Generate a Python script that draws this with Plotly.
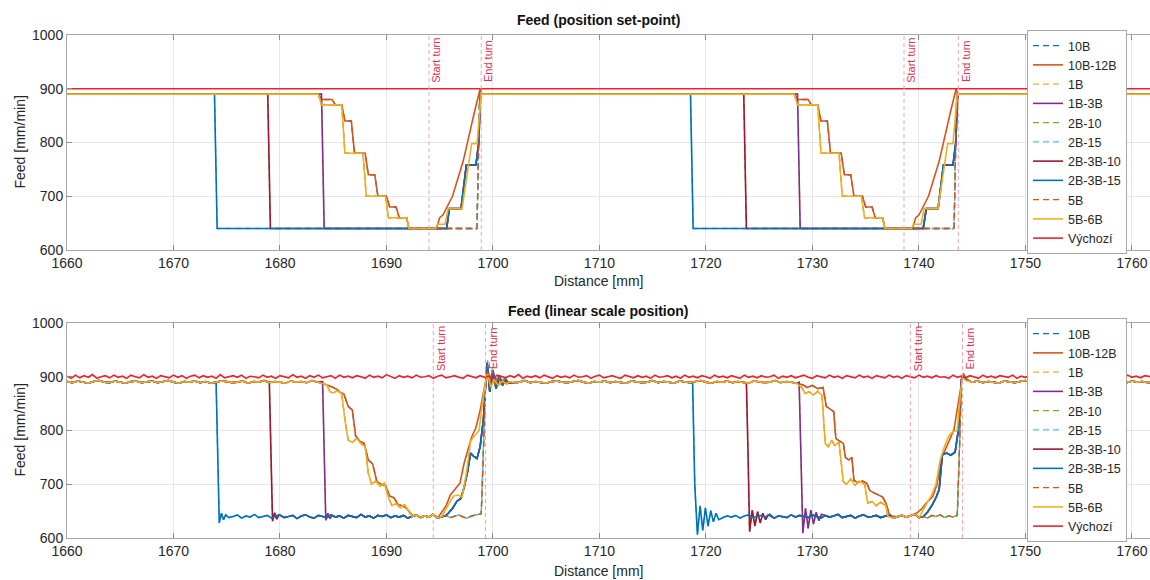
import plotly.graph_objects as go

# ---------------------------------------------------------------- series
SERIES = ["10B", "10B-12B", "1B", "1B-3B", "2B-10", "2B-15",
          "2B-3B-10", "2B-3B-15", "5B", "5B-6B", "Výchozí"]
COLORS = ["#0072BD", "#D95319", "#EDB120", "#7E2F8E", "#77AC30", "#4DBEEE",
          "#A2142F", "#0072BD", "#D95319", "#EDB120", "#E8242B"]
DASHED = ["10B", "1B", "2B-10", "2B-15", "5B"]

X_RANGE = [1660, 1761.7]
Y_RANGE = [600, 1000]
X_TICKS = [1660, 1670, 1680, 1690, 1700, 1710, 1720, 1730, 1740, 1750, 1760]
Y_TICKS = [600, 700, 800, 900, 1000]

# turn markers [mm]
TURN_SETPOINT = [("Start turn", 1694.0), ("End turn", 1698.9),
                 ("Start turn", 1738.6), ("End turn", 1743.7)]
TURN_MEASURED = [("Start turn", 1694.4), ("End turn", 1699.3),
                 ("Start turn", 1739.2), ("End turn", 1744.1)]

# ------------------------------------------------- set-point feed pieces
SP_START = ([1660], [890])
SP_END = ([1762], [890])
SP_DEFAULT = ([1660, 1762], [900, 900])

sp_drop15_c1 = ([1673.85, 1674.1], [890, 640])
sp_drop15_c2 = ([1718.55, 1718.8], [890, 640])
sp_drop10_c1 = ([1678.85, 1679.1], [890, 640])
sp_drop10_c2 = ([1723.55, 1723.8], [890, 640])
sp_drop13_c1 = ([1683.9, 1684.15], [890, 640])
sp_drop13_c2 = ([1728.6, 1728.85], [890, 640])

sp_stair56_c1 = ([1683.6, 1683.9, 1685.8, 1686.1, 1687.8, 1688.1, 1689.9, 1690.2, 1691.9, 1692.1],
                 [890, 870, 870, 780, 780, 700, 700, 660, 660, 640])
sp_stair56_c2 = ([1728.3, 1728.6, 1730.5, 1730.8, 1732.5, 1732.8, 1734.6, 1734.9, 1736.6, 1736.8],
                 [890, 870, 870, 780, 780, 700, 700, 660, 660, 640])
sp_stair1012_c1 = ([1683.6, 1683.9, 1684.9, 1685.2, 1685.8, 1686.1, 1686.7, 1687.0, 1688.0,
                    1688.3, 1688.9, 1689.2, 1690.0, 1690.3, 1690.9, 1691.2, 1691.9, 1692.1],
                   [890, 880, 880, 870, 870, 840, 840, 780, 780,
                    740, 740, 700, 700, 680, 680, 660, 660, 640])
sp_stair1012_c2 = ([1728.3, 1728.6, 1729.6, 1729.9, 1730.5, 1730.8, 1731.4, 1731.7, 1732.7,
                    1733.0, 1733.6, 1733.9, 1734.7, 1735.0, 1735.6, 1735.9, 1736.6, 1736.8],
                   [890, 880, 880, 870, 870, 840, 840, 780, 780,
                    740, 740, 700, 700, 680, 680, 660, 660, 640])

sp_ramp_b_c1 = ([1695.65, 1695.9, 1697.0, 1697.5, 1698.4, 1698.65, 1698.85],
                [640, 677, 677, 758, 758, 798, 890])
sp_ramp_b_c2 = ([1740.4, 1740.7, 1741.8, 1742.3, 1743.2, 1743.45, 1743.65],
                [640, 677, 677, 758, 758, 798, 890])
sp_ramp56_c1 = ([1694.6, 1694.8, 1695.5, 1695.8, 1697.1, 1698.0, 1698.5, 1698.9],
                [640, 648, 648, 677, 677, 798, 798, 890])
sp_ramp56_c2 = ([1739.3, 1739.5, 1740.2, 1740.5, 1741.8, 1742.7, 1743.2, 1743.6],
                [640, 648, 648, 677, 677, 798, 798, 890])
sp_ramp1012_c1 = ([1694.7, 1695.0, 1695.3, 1696.2, 1697.2, 1698.3, 1698.8, 1698.95],
                  [640, 660, 665, 700, 765, 860, 900, 890])
sp_ramp1012_c2 = ([1739.4, 1739.7, 1740.0, 1740.9, 1741.9, 1743.0, 1743.5, 1743.65],
                  [640, 660, 665, 700, 765, 860, 900, 890])
sp_jump_c1 = ([1698.5, 1698.75], [640, 890])
sp_jump_c2 = ([1743.3, 1743.55], [640, 890])

# ------------------------------------------- measured (linear scale) feed
RED_X0, RED_STEP = 1660.0, 0.4
red_meas = [
    901, 897, 903, 898, 902, 899, 904, 897, 900, 902, 898, 903, 899, 901, 897, 903,
    900, 898, 904, 899, 901, 897, 902, 900, 898, 903, 899, 902, 897, 901, 903, 898,
    902, 899, 901, 897, 904, 898, 900, 902, 899, 903, 897, 901, 900, 898, 903, 899,
    901, 897, 902, 900, 898, 904, 899, 901, 897, 902, 899, 903, 898, 900, 902, 897,
    903, 899, 901, 898, 902, 900, 897, 903, 899, 901, 898, 904, 900, 897, 902, 899,
    901, 898, 903, 899, 900, 902, 897, 901, 903, 898, 900, 902, 899, 897, 903, 900,
    898, 902, 899, 901, 897, 903, 900, 898, 902, 899, 904, 897, 901, 899, 902, 898,
    903, 900, 897, 902, 899, 901, 898, 903, 899, 900, 902, 897, 901, 903, 898, 900,
    902, 899, 897, 903, 900, 898, 902, 899, 901, 897, 903, 899, 900, 902, 898, 901,
    897, 903, 899, 901, 898, 902, 900, 897, 903, 899, 901, 898, 902, 900, 897, 903,
    899, 901, 898, 902, 899, 900, 903, 897, 901, 899, 902, 898, 900, 903, 899, 897,
    902, 900, 898, 903, 899, 901, 897, 902, 900, 898, 903, 899, 901, 897, 902, 900,
    898, 903, 899, 901, 897, 902, 900, 898, 903, 899, 901, 898, 902, 899, 900, 897,
    903, 899, 901, 898, 902, 900, 897, 903, 899, 901, 898, 902, 900, 899, 903, 897,
    901, 899, 902, 898, 900, 903, 899, 897, 902, 900, 898, 903, 899, 901, 897, 902,
    900, 898, 903, 899, 901, 897, 902, 900, 898, 903, 899, 901, 898, 902, 900, 899,
]

CRUISE_X0, CRUISE_STEP = 1660.0, 0.5
cruise_meas = [
    891, 889, 892, 890, 888, 891, 893, 890, 889, 892, 890, 888, 891, 892, 889, 890,
    892, 889, 891, 893, 890, 888, 891, 890, 892, 889, 891, 888, 890, 892, 891, 889,
    890, 892, 888, 891, 890, 893, 889, 891, 890, 888, 892, 890, 891, 889, 893, 890,
    888, 891, 892, 889, 890, 891, 888, 892, 890, 889, 891, 893, 890, 888, 891, 890,
    892, 889, 890, 891, 888, 892, 890, 889, 893, 890, 891, 888, 890, 892, 889, 891,
    890, 888, 892, 891, 889, 890, 893, 889, 891, 890, 888, 891, 892, 890, 889, 891,
    893, 890, 888, 891, 890, 892, 889, 891, 890, 888, 892, 891, 889, 890, 893, 889,
    891, 890, 888, 892, 890, 889, 891, 893, 890, 888, 891, 890, 892, 889, 891, 890,
    888, 892, 891, 889, 890, 893, 889, 891, 890, 888, 892, 890, 891, 889, 890, 892,
    889, 891, 890, 888, 892, 891, 889, 890, 893, 890, 888, 891, 890, 892, 889, 891,
    890, 888, 892, 890, 891, 889, 893, 890, 888, 891, 890, 892, 889, 891, 890, 888,
    892, 890, 889, 891, 893, 890, 888, 891, 890, 892, 889, 890, 891, 888, 892, 890,
    889, 891, 890, 892, 888, 891, 890, 889, 892, 890, 891, 889, 890,
]

LOW_X0, LOW_STEP = 1672.0, 0.4
low_meas = [
    641, 637, 643, 639, 642, 636, 641, 644, 638, 640, 643, 637, 641, 639, 644, 638,
    640, 642, 637, 641, 643, 638, 640, 642, 636, 641, 643, 639, 637, 642, 640, 638,
    643, 639, 641, 637, 642, 640, 638, 644, 639, 641, 637, 642, 640, 643, 638, 641,
    639, 642, 637, 640, 643, 638, 641, 639, 644, 637, 640, 642, 638, 641, 643, 639,
    637, 641, 643, 638, 640, 642, 636, 641, 639, 643, 638, 640, 642, 637, 641, 644,
    638, 640, 642, 639, 637, 643, 640, 638, 641, 644, 639, 637, 642, 640, 638, 643,
    641, 639, 637, 642, 640, 644, 638, 641, 639, 643, 637, 640, 642, 638, 641, 639,
    643, 637, 640, 642, 638, 641, 644, 639, 637, 642, 640, 643, 638, 641, 639, 642,
    637, 641, 643, 638, 640, 642, 639, 644, 637, 641, 640, 638, 643, 639, 642, 640,
    638, 643, 640, 637, 642, 639, 641, 644, 638, 640, 642, 637, 641, 643, 639, 640,
    642, 638, 641, 643, 637, 640, 642, 639, 641, 644, 638, 640,
    637, 642, 640, 643, 638, 641, 639, 642, 637, 640, 643, 638, 641, 640,
]

m_drop15_c1 = ([1674.0, 1674.15, 1674.3, 1674.5, 1674.7, 1674.9],
               [890, 760, 628, 646, 634, 643])
m_drop15_c2 = ([1718.75, 1718.95, 1719.2, 1719.45, 1719.7, 1719.95, 1720.2, 1720.45, 1720.7, 1720.95, 1721.2],
               [888, 700, 606, 660, 614, 656, 622, 651, 630, 646, 634])
m_drop10_c1 = ([1679.0, 1679.15, 1679.3, 1679.5, 1679.7, 1679.9],
               [890, 760, 631, 647, 635, 643])
m_drop10_c2 = ([1723.8, 1723.95, 1724.1, 1724.35, 1724.6, 1724.85, 1725.1, 1725.35, 1725.6, 1725.85],
               [889, 760, 612, 652, 622, 649, 628, 646, 634, 643])
m_drop13_c1 = ([1684.0, 1684.15, 1684.3, 1684.5, 1684.7, 1684.9],
               [891, 760, 633, 646, 636, 642])
m_drop13_c2 = ([1728.75, 1728.9, 1729.1, 1729.35, 1729.6, 1729.85, 1730.1, 1730.35, 1730.6, 1730.85],
               [890, 760, 609, 655, 618, 652, 626, 648, 632, 644])

m_stair56_c1 = ([1684.4, 1684.7, 1685.0, 1685.4, 1685.8, 1686.1, 1686.4, 1686.8, 1687.2, 1687.6, 1688.0,
                 1688.3, 1688.6, 1689.0, 1689.4, 1689.8, 1690.2, 1690.5, 1690.9, 1691.3, 1691.7, 1692.1, 1692.4],
                [885, 872, 870, 874, 868, 820, 782, 778, 785, 776, 770,
                 720, 700, 706, 696, 702, 675, 660, 664, 656, 662, 650, 640])
m_stair56_c2 = ([1729.0, 1729.3, 1729.7, 1730.1, 1730.5, 1730.9, 1731.2, 1731.5, 1731.8, 1732.1, 1732.5,
                 1732.9, 1733.2, 1733.6, 1734.0, 1734.4, 1734.9, 1735.2, 1735.6, 1736.0, 1736.4, 1736.9, 1737.1],
                [880, 869, 872, 866, 873, 865, 776, 770, 782, 772, 778,
                 705, 700, 710, 698, 706, 700, 665, 668, 660, 667, 660, 640])
m_stair1012_c1 = ([1684.5, 1685.0, 1685.4, 1685.7, 1686.0, 1686.4, 1686.8, 1687.1, 1687.5, 1687.9, 1688.3,
                   1688.7, 1689.1, 1689.5, 1689.9, 1690.3, 1690.7, 1691.1, 1691.5, 1691.9, 1692.3, 1692.6],
                  [884, 880, 876, 870, 868, 845, 838, 790, 780, 776, 745,
                   738, 705, 700, 698, 678, 675, 662, 660, 655, 645, 640])
m_stair1012_c2 = ([1729.1, 1729.5, 1730.0, 1730.5, 1731.0, 1731.3, 1731.7, 1732.0, 1732.2, 1732.6, 1732.9,
                   1733.1, 1733.4, 1733.7, 1733.9, 1734.3, 1734.7, 1735.1, 1735.4, 1735.8, 1736.2, 1736.6,
                   1736.9, 1737.2, 1737.5],
                  [885, 880, 884, 878, 880, 845, 840, 835, 785, 780, 776,
                   750, 745, 750, 707, 703, 706, 702, 688, 684, 680, 676,
                   665, 645, 640])

m_ramp_b_c1 = ([1695.8, 1696.2, 1696.6, 1697.0, 1697.3, 1697.6, 1697.9, 1698.2, 1698.5, 1698.8,
                1699.1, 1699.35, 1699.45, 1699.7, 1700.0, 1700.3, 1700.6, 1700.9, 1701.2, 1701.5],
               [646, 655, 668, 674, 695, 722, 758, 752, 748, 770,
                820, 900, 926, 872, 912, 878, 903, 884, 895, 888])
m_ramp_b_c2 = ([1740.8, 1741.2, 1741.6, 1741.9, 1742.2, 1742.6, 1743.0, 1743.4, 1743.7, 1744.0, 1744.15, 1744.4],
               [648, 660, 675, 690, 755, 758, 754, 760, 800, 895, 905, 895])
m_ramp56_c1 = ([1695.5, 1695.9, 1696.3, 1696.7, 1697.1, 1697.5, 1697.9, 1698.3, 1698.7, 1699.0,
                1699.3, 1699.5, 1699.8, 1700.1, 1700.5, 1700.9, 1701.3],
               [652, 665, 678, 680, 676, 720, 781, 790, 800, 850,
                890, 905, 880, 895, 884, 892, 886])
m_ramp56_c2 = ([1740.4, 1740.8, 1741.2, 1741.6, 1742.0, 1742.4, 1742.8, 1743.2, 1743.6, 1743.9, 1744.1, 1744.4],
               [652, 668, 680, 700, 745, 770, 790, 798, 800, 870, 900, 893])
m_ramp1012_c1 = ([1695.2, 1695.6, 1696.0, 1696.4, 1696.9, 1697.3, 1697.7, 1698.0, 1698.4, 1698.8,
                  1699.1, 1699.3, 1699.5, 1699.8, 1700.2, 1700.6, 1701.0, 1701.3],
                 [648, 660, 680, 690, 702, 740, 770, 788, 805, 838,
                  870, 890, 910, 885, 900, 886, 895, 888])
m_ramp1012_c2 = ([1739.9, 1740.3, 1740.7, 1741.3, 1741.7, 1742.2, 1742.6, 1743.0, 1743.3, 1743.6, 1743.9, 1744.1, 1744.4],
                 [648, 655, 665, 677, 700, 752, 770, 790, 802, 840, 880, 900, 896])
m_jump_c1 = ([1698.9, 1699.1, 1699.3, 1699.5, 1699.7, 1699.95, 1700.2, 1700.5, 1700.8, 1701.1, 1701.4],
             [645, 760, 880, 922, 890, 912, 882, 902, 886, 896, 889])
m_jump15_c1 = ([1698.9, 1699.1, 1699.3, 1699.5, 1699.7, 1699.95, 1700.2, 1700.5, 1700.8, 1701.1, 1701.4],
               [645, 770, 890, 931, 885, 915, 880, 903, 885, 897, 889])
m_jump_c2 = ([1743.6, 1743.8, 1744.0, 1744.2, 1744.5], [642, 760, 895, 905, 895])


# ------------------------------------------------------------ assembling
def chain(*pieces):
    xs, ys = [], []
    for px, py in pieces:
        xs += list(px)
        ys += list(py)
    return xs, ys


def grid(x0, step, values, lo, hi):
    out = []
    for i, v in enumerate(values):
        x = round(x0 + i * step, 3)
        if lo <= x <= hi:
            out.append((x, v))
    return out


def measured(pieces, cruise_spans, low_spans):
    pts = []
    for px, py in pieces:
        pts += list(zip(px, py))
    for lo, hi in cruise_spans:
        pts += grid(CRUISE_X0, CRUISE_STEP, cruise_meas, lo, hi)
    for lo, hi in low_spans:
        pts += grid(LOW_X0, LOW_STEP, low_meas, lo, hi)
    pts.sort(key=lambda p: p[0])
    return [p[0] for p in pts], [p[1] for p in pts]


setpoint = {
    "10B": chain(SP_START, sp_stair1012_c1, sp_jump_c1, sp_stair1012_c2, sp_jump_c2, SP_END),
    "10B-12B": chain(SP_START, sp_stair1012_c1, sp_ramp1012_c1, sp_stair1012_c2, sp_ramp1012_c2, SP_END),
    "1B": chain(SP_START, sp_drop13_c1, sp_jump_c1, sp_drop13_c2, sp_jump_c2, SP_END),
    "1B-3B": chain(SP_START, sp_drop13_c1, sp_ramp_b_c1, sp_drop13_c2, sp_ramp_b_c2, SP_END),
    "2B-10": chain(SP_START, sp_drop10_c1, sp_jump_c1, sp_drop10_c2, sp_jump_c2, SP_END),
    "2B-15": chain(SP_START, sp_drop15_c1, sp_jump_c1, sp_drop15_c2, sp_jump_c2, SP_END),
    "2B-3B-10": chain(SP_START, sp_drop10_c1, sp_ramp_b_c1, sp_drop10_c2, sp_ramp_b_c2, SP_END),
    "2B-3B-15": chain(SP_START, sp_drop15_c1, sp_ramp_b_c1, sp_drop15_c2, sp_ramp_b_c2, SP_END),
    "5B": chain(SP_START, sp_stair56_c1, sp_jump_c1, sp_stair56_c2, sp_jump_c2, SP_END),
    "5B-6B": chain(SP_START, sp_stair56_c1, sp_ramp56_c1, sp_stair56_c2, sp_ramp56_c2, SP_END),
    "Výchozí": SP_DEFAULT,
}

END_X = 1762.5
linear = {
    "10B": measured([m_stair1012_c1, m_jump_c1, m_stair1012_c2, m_jump_c2],
                    [(1660, 1684.2), (1701.6, 1728.8), (1744.6, END_X)],
                    [(1692.7, 1698.75), (1737.7, 1743.45)]),
    "10B-12B": measured([m_stair1012_c1, m_ramp1012_c1, m_stair1012_c2, m_ramp1012_c2],
                        [(1660, 1684.2), (1701.5, 1728.8), (1744.6, END_X)],
                        [(1692.7, 1694.95), (1737.7, 1739.75)]),
    "1B": measured([m_drop13_c1, m_jump_c1, m_drop13_c2, m_jump_c2],
                   [(1660, 1683.9), (1701.6, 1728.6), (1744.6, END_X)],
                   [(1685.1, 1698.75), (1731.1, 1743.45)]),
    "1B-3B": measured([m_drop13_c1, m_ramp_b_c1, m_drop13_c2, m_ramp_b_c2],
                      [(1660, 1683.9), (1701.8, 1728.6), (1744.6, END_X)],
                      [(1685.1, 1695.6), (1731.1, 1740.6)]),
    "2B-10": measured([m_drop10_c1, m_jump_c1, m_drop10_c2, m_jump_c2],
                      [(1660, 1678.9), (1701.6, 1723.7), (1744.6, END_X)],
                      [(1680.1, 1698.75), (1726.1, 1743.45)]),
    "2B-15": measured([m_drop15_c1, m_jump15_c1, m_drop15_c2, m_jump_c2],
                      [(1660, 1673.9), (1701.6, 1718.6), (1744.6, END_X)],
                      [(1675.1, 1698.75), (1721.4, 1743.45)]),
    "2B-3B-10": measured([m_drop10_c1, m_ramp_b_c1, m_drop10_c2, m_ramp_b_c2],
                         [(1660, 1678.9), (1701.8, 1723.7), (1744.6, END_X)],
                         [(1680.1, 1695.6), (1726.1, 1740.6)]),
    "2B-3B-15": measured([m_drop15_c1, m_ramp_b_c1, m_drop15_c2, m_ramp_b_c2],
                         [(1660, 1673.9), (1701.8, 1718.6), (1744.6, END_X)],
                         [(1675.1, 1695.6), (1721.4, 1740.6)]),
    "5B": measured([m_stair56_c1, m_jump_c1, m_stair56_c2, m_jump_c2],
                   [(1660, 1684.2), (1701.6, 1728.8), (1744.6, END_X)],
                   [(1692.5, 1698.75), (1737.3, 1743.45)]),
    "5B-6B": measured([m_stair56_c1, m_ramp56_c1, m_stair56_c2, m_ramp56_c2],
                      [(1660, 1684.2), (1701.5, 1728.8), (1744.6, END_X)],
                      [(1692.5, 1695.2), (1737.3, 1740.1)]),
    "Výchozí": ([round(RED_X0 + i * RED_STEP, 3) for i in range(len(red_meas))], red_meas),
}

# ---------------------------------------------------------------- figure
W, H = 1150, 580
FONT = "Liberation Sans, Arial, Helvetica, sans-serif"
TXT = "#262626"
PLOT_L, PLOT_R = 67, 1150
TOP_Y, BOT_Y = (35, 250), (323, 538)


def px_x(v):
    return v / W


def py_y(v):
    return (H - v) / H


fig = go.Figure()
for panel, data, legend in ((1, setpoint, "legend"), (2, linear, "legend2")):
    for name, color in zip(SERIES, COLORS):
        xs, ys = data[name]
        dashed = name in DASHED
        fig.add_trace(go.Scatter(
            x=xs, y=ys, mode="lines", name=name,
            xaxis="x" if panel == 1 else "x2", yaxis="y" if panel == 1 else "y2",
            legend=legend, hoverinfo="skip",
            line=dict(color=color, width=1.3 if dashed else 1.6,
                      dash="6px,4px" if dashed else "solid"),
        ))

axis_common = dict(
    showline=True, linecolor="#a8a8a8", linewidth=1, automargin=False,
    ticks="inside", ticklen=5, tickcolor="#8c8c8c", tickwidth=1,
    showgrid=True, gridcolor="#e6e6e6", gridwidth=1, zeroline=False,
    tickfont=dict(family=FONT, size=14, color=TXT),
)
xdom = [px_x(PLOT_L), px_x(PLOT_R)]
legend_common = dict(xanchor="right", yanchor="top", bgcolor="white", bordercolor="#a8a8a8",
                     borderwidth=1, font=dict(family=FONT, size=12.5, color=TXT),
                     itemwidth=30, tracegroupgap=0)
fig.update_layout(
    width=W, height=H, margin=dict(l=0, r=0, t=0, b=0, autoexpand=False),
    paper_bgcolor="white", plot_bgcolor="white", showlegend=True,
    xaxis=dict(domain=xdom, anchor="y", range=X_RANGE, tickvals=X_TICKS, mirror="ticks", **axis_common),
    yaxis=dict(domain=[py_y(TOP_Y[1]), py_y(TOP_Y[0])], anchor="x", range=Y_RANGE, tickvals=Y_TICKS, **axis_common),
    xaxis2=dict(domain=xdom, anchor="y2", range=X_RANGE, tickvals=X_TICKS, mirror="ticks", **axis_common),
    yaxis2=dict(domain=[py_y(BOT_Y[1]), py_y(BOT_Y[0])], anchor="x2", range=Y_RANGE, tickvals=Y_TICKS, **axis_common),
    legend=dict(x=px_x(1127), y=py_y(30), **legend_common),
    legend2=dict(x=px_x(1127), y=py_y(318), **legend_common),
)

shapes, notes = [], []
for xref, yref, turns in (("x", "y", TURN_SETPOINT), ("x2", "y2", TURN_MEASURED)):
    for label, pos in turns:
        shapes.append(dict(type="line", xref=xref, yref=yref + " domain", x0=pos, x1=pos, y0=0, y1=1,
                           line=dict(color="#F4A3B3", width=1, dash="4px,3px"), layer="above"))
        notes.append(dict(x=pos, y=0.88, xref=xref, yref=yref + " domain", text=label, showarrow=False,
                          textangle=-90, xanchor="center", yanchor="middle", xshift=7,
                          font=dict(family=FONT, size=11, color="#E0304A")))

cx = px_x((PLOT_L + 1131) / 2)
for title, ty in (("Feed (position set-point)", 20), ("Feed (linear scale position)", 311)):
    notes.append(dict(x=cx, y=py_y(ty), xref="paper", yref="paper", text="<b>" + title + "</b>",
                      showarrow=False, xanchor="center", yanchor="middle",
                      font=dict(family=FONT, size=14, color="#111111")))
for ty in (281, 571):
    notes.append(dict(x=cx, y=py_y(ty), xref="paper", yref="paper", text="Distance [mm]",
                      showarrow=False, xanchor="center", yanchor="middle",
                      font=dict(family=FONT, size=14, color=TXT)))
for (a, b) in (TOP_Y, BOT_Y):
    notes.append(dict(x=px_x(19), y=py_y((a + b) / 2), xref="paper", yref="paper", text="Feed [mm/min]",
                      showarrow=False, textangle=-90, xanchor="center", yanchor="middle",
                      font=dict(family=FONT, size=14, color=TXT)))

fig.update_layout(shapes=shapes, annotations=notes)
fig.write_html("out.html")
